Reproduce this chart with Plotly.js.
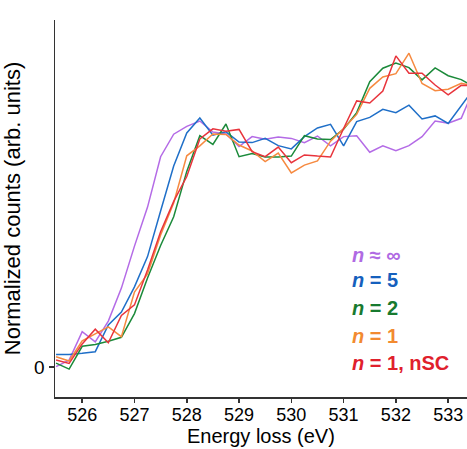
<!DOCTYPE html>
<html>
<head>
<meta charset="utf-8">
<script src="https://cdn.plot.ly/plotly-3.0.1.min.js"></script>
<style>html,body{margin:0;padding:0;background:#fff;}#chart{width:467px;height:449px;}</style>
</head>
<body>
<div id="chart"></div>
<script>
// Energy loss axis (eV), step 0.25 eV
const energyStart = 525.5;
const energyStep = 0.25;
const energy = [];
for (let i = 0; i < 33; i++) energy.push(+(energyStart + i * energyStep).toFixed(2));

// Normalized counts for each sample
const nInf = [0.001,0.023,0.118,0.084,0.153,0.263,0.403,0.533,0.701,0.776,0.802,0.820,0.783,0.777,0.735,0.768,0.759,0.767,0.762,0.748,0.770,0.737,0.768,0.771,0.716,0.737,0.721,0.738,0.768,0.820,0.813,0.829,0.930];
const n5 = [0.042,0.042,0.046,0.051,0.140,0.183,0.267,0.368,0.520,0.670,0.780,0.830,0.773,0.784,0.750,0.748,0.762,0.738,0.727,0.768,0.797,0.809,0.737,0.818,0.832,0.859,0.848,0.873,0.827,0.837,0.812,0.870,0.930];
const n2 = [0.013,-0.007,0.069,0.075,0.086,0.099,0.178,0.297,0.405,0.501,0.652,0.771,0.742,0.810,0.701,0.712,0.700,0.700,0.703,0.771,0.760,0.758,0.793,0.848,0.951,0.996,1.013,0.998,0.957,0.997,0.971,0.958,0.933];
const n1 = [0.034,0.020,0.087,0.110,0.134,0.101,0.250,0.310,0.440,0.547,0.704,0.737,0.777,0.775,0.740,0.720,0.685,0.713,0.647,0.673,0.687,0.753,0.795,0.842,0.929,0.967,0.978,1.046,0.945,0.921,0.926,0.946,0.937];
const n1nSC = [0.023,0.012,0.077,0.126,0.081,0.172,0.207,0.323,0.451,0.552,0.635,0.760,0.794,0.786,0.792,0.718,0.701,0.733,0.681,0.707,0.703,0.700,0.795,0.887,0.880,0.920,1.037,0.979,0.979,0.940,0.907,0.939,0.937];

const seriesNames = ["n ≈ ∞", "n = 5", "n = 2", "n = 1", "n = 1, nSC"];
const legendLabels = ["<b><i>n</i> ≈ ∞</b>", "<b><i>n</i> = 5</b>", "<b><i>n</i> = 2</b>", "<b><i>n</i> = 1</b>", "<b><i>n</i> = 1, nSC</b>"];
const lineColors = ["#b46be6", "#1f6fc8", "#1b8a3a", "#f68a40", "#e8343c"];
const textColors = ["#b06ae3", "#1560bd", "#177a2f", "#f28a30", "#e0202c"];
const xTicks = [526, 527, 528, 529, 530, 531, 532, 533];
const xTitle = 'Energy loss (eV)';
const yTitle = 'Normalized counts (arb. units)';

const seriesData = [nInf, n5, n2, n1, n1nSC];
const traces = seriesData.map((ys, i) => ({
  x: energy, y: ys, type: 'scatter', mode: 'lines', name: seriesNames[i],
  line: {color: lineColors[i], width: 1.5}, showlegend: false, cliponaxis: true
}));

const legendY = [0.376, 0.310, 0.237, 0.163, 0.091];
const annotations = legendLabels.map((t, i) => ({
  text: t, xref: 'paper', yref: 'paper', x: 0.716, y: legendY[i],
  xanchor: 'left', yanchor: 'middle', showarrow: false,
  font: {family: 'Liberation Sans, Arial, sans-serif', size: 20, color: textColors[i]}
}));
// x-axis title drawn as an annotation so it sits clear of the tick labels
annotations.push({
  text: xTitle, xref: 'paper', yref: 'paper', x: 0.5, y: -0.1045,
  xanchor: 'center', yanchor: 'middle', showarrow: false, borderpad: 0,
  font: {family: 'Liberation Sans, Arial, sans-serif', size: 20, color: '#000'}
});

const layout = {
  width: 467, height: 449,
  margin: {l: 55, r: 0, t: 20, b: 52},
  paper_bgcolor: '#fff', plot_bgcolor: '#fff',
  font: {family: 'Liberation Sans, Arial, sans-serif', size: 18, color: '#000'},
  xaxis: {
    range: [525.48, 533.36], tickvals: xTicks, ticktext: xTicks.map(String),
    ticks: 'outside', ticklen: 4, tickwidth: 1.5, tickcolor: '#333',
    showline: true, linecolor: '#333', linewidth: 1.5, showgrid: false, zeroline: false,
    tickfont: {size: 18}, ticklabelstandoff: -3,
    automargin: false
  },
  yaxis: {
    range: [-0.1, 1.1567], tickvals: [0], ticktext: ['0'],
    ticks: 'outside', ticklen: 5, tickwidth: 1.5, tickcolor: '#333',
    showline: true, linecolor: '#333', linewidth: 1.5, showgrid: false, zeroline: false,
    tickfont: {size: 19},
    title: {text: yTitle, font: {size: 22}},
    automargin: false
  },
  annotations: annotations,
  showlegend: false
};

Plotly.newPlot('chart', traces, layout, {displayModeBar: false, staticPlot: true});
</script>
</body>
</html>
